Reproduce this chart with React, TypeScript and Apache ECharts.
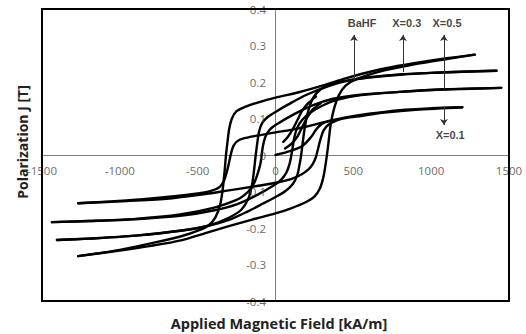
import React, { useEffect, useRef } from "react";
import * as echarts from "echarts";

// Hysteresis loops: [H (kA/m), J (T)]
const bahfDesc = [
  [1280, 0.275], [1100, 0.265], [900, 0.252], [700, 0.237], [550, 0.222], [450, 0.21], [300, 0.19],
  [150, 0.172], [0, 0.157], [-120, 0.143], [-200, 0.131], [-250, 0.12], [-280, 0.1], [-298, 0.07],
  [-310, 0.03], [-318, 0.0], [-326, -0.04], [-338, -0.09], [-355, -0.135], [-385, -0.17], [-430, -0.193],
  [-490, -0.206], [-600, -0.222], [-800, -0.242], [-1000, -0.26], [-1268, -0.277],
];
const bahfAsc = [
  [-1268, -0.277], [-1000, -0.262], [-800, -0.249], [-600, -0.233], [-450, -0.214], [-300, -0.195],
  [-150, -0.177], [0, -0.16], [100, -0.146], [200, -0.128], [250, -0.114], [285, -0.092], [308, -0.06],
  [322, -0.025], [332, 0.005], [342, 0.04], [355, 0.085], [375, 0.125], [405, 0.162], [450, 0.19],
  [520, 0.208], [700, 0.232], [900, 0.249], [1100, 0.263], [1280, 0.275],
];
const x01Desc = [
  [1200, 0.131], [1000, 0.128], [800, 0.123], [600, 0.113], [450, 0.103], [350, 0.094], [200, 0.078],
  [100, 0.069], [0, 0.062], [-120, 0.053], [-200, 0.046], [-245, 0.038], [-270, 0.025], [-285, 0.005],
  [-298, -0.02], [-312, -0.045], [-330, -0.07], [-360, -0.088], [-420, -0.099], [-500, -0.105],
  [-650, -0.113], [-870, -0.122], [-1050, -0.127], [-1268, -0.132],
];
const x01Asc = [
  [-1268, -0.132], [-1000, -0.127], [-700, -0.12], [-500, -0.11], [-300, -0.097], [-150, -0.087],
  [0, -0.076], [100, -0.066], [160, -0.055], [210, -0.04], [240, -0.024], [260, -0.005], [275, 0.02],
  [290, 0.045], [310, 0.068], [340, 0.083], [390, 0.094], [450, 0.101], [550, 0.107], [700, 0.116],
  [900, 0.124], [1200, 0.131],
];
const x03Desc = [
  [1420, 0.231], [1200, 0.228], [1000, 0.225], [800, 0.221], [600, 0.213], [480, 0.205], [350, 0.19],
  [200, 0.165], [80, 0.138], [0, 0.118], [-50, 0.104], [-85, 0.088], [-105, 0.065], [-118, 0.03],
  [-127, 0.0], [-136, -0.035], [-150, -0.08], [-175, -0.12], [-220, -0.15], [-300, -0.172],
  [-420, -0.192], [-600, -0.207], [-900, -0.221], [-1200, -0.229], [-1404, -0.233],
];
const x03Asc = [
  [-1404, -0.233], [-1200, -0.229], [-900, -0.221], [-600, -0.207], [-450, -0.196], [-300, -0.178],
  [-180, -0.155], [-80, -0.133], [0, -0.115], [60, -0.1], [110, -0.08], [140, -0.055], [155, -0.025],
  [165, 0.0], [175, 0.035], [190, 0.08], [210, 0.12], [240, 0.155], [290, 0.18], [360, 0.195],
  [480, 0.205], [600, 0.212], [800, 0.22], [1000, 0.225], [1200, 0.228], [1420, 0.231],
];
const x05Desc = [
  [1450, 0.184], [1200, 0.181], [1000, 0.178], [800, 0.173], [600, 0.167], [480, 0.162], [370, 0.154],
  [250, 0.138], [120, 0.112], [0, 0.082], [-40, 0.068], [-65, 0.05], [-78, 0.03], [-86, 0.01],
  [-95, -0.02], [-110, -0.045], [-130, -0.07], [-155, -0.09], [-200, -0.11], [-250, -0.123],
  [-400, -0.145], [-613, -0.163], [-900, -0.175], [-1200, -0.181], [-1436, -0.184],
];
const x05Asc = [
  [-1436, -0.184], [-1200, -0.181], [-900, -0.176], [-600, -0.166], [-400, -0.152], [-250, -0.135],
  [-120, -0.11], [0, -0.08], [40, -0.066], [70, -0.048], [90, -0.025], [100, -0.005], [110, 0.02],
  [122, 0.05], [140, 0.075], [170, 0.095], [220, 0.115], [300, 0.135], [400, 0.152], [550, 0.164],
  [800, 0.173], [1100, 0.18], [1450, 0.184],
];
// Initial magnetization curves
const virgin1 = [[0, 0.0], [80, 0.009], [170, 0.024], [230, 0.05], [265, 0.072], [300, 0.086], [340, 0.092]];
const virgin2 = [[50, 0.036], [80, 0.05], [110, 0.07], [140, 0.095], [170, 0.12], [210, 0.142], [260, 0.16]];
const virgin3 = [[61, 0.018], [100, 0.03], [140, 0.05], [170, 0.075], [200, 0.1], [240, 0.125], [290, 0.142]];

// Tick labels
const xTicks = [-1500, -1000, -500, 0, 500, 1000, 1500];
const yTicks = [-0.4, -0.3, -0.2, -0.1, 0, 0.1, 0.2, 0.3, 0.4];
const yTickLabels = ["-0.4", "-0.3", "-0.2", "-0.1", "0", "0.1", "0.2", "0.3", "0.4"];

// Annotations: [H, J from, J to], and label positions
const arrowLines = [
  [504, 0.205, 0.329],
  [819, 0.227, 0.329],
  [1082, 0.181, 0.329],
  [1082, 0.131, 0.082],
];
const annotationLabels = [
  { name: "BaHF", value: [556, 0.362] },
  { name: "X=0.3", value: [843, 0.362] },
  { name: "X=0.5", value: [1102, 0.362] },
  { name: "X=0.1", value: [1122, 0.055] },
];
const xTitle = "Applied Magnetic Field [kA/m]";
const yTitle = "Polarization J [T]";

const tickFont = { color: "#404040", fontSize: 11.5, fontFamily: "Open Sans" };

export default function App() {
  const ref = useRef<HTMLDivElement>(null);
  useEffect(() => {
    if (!ref.current) return;
    const chart = echarts.init(ref.current, undefined, { renderer: "svg" });
    const curves = [bahfDesc, bahfAsc, x01Desc, x01Asc, x03Desc, x03Asc, x05Desc, x05Asc, virgin1, virgin2, virgin3];
    const series: any[] = curves.map((d, i) => ({
      type: "line",
      data: d,
      symbol: "none",
      smooth: 0.3,
      lineStyle: { color: "#000", width: 2.4, cap: "round", join: "round" },
      silent: true,
      z: 3,
      markLine:
        i === 0
          ? {
              silent: true,
              symbol: ["none", "arrow"],
              symbolSize: 6,
              label: { show: false },
              lineStyle: { color: "#333", width: 1, type: "solid" },
              data: arrowLines.map((a) => [
                { coord: [a[0], a[1]] },
                { coord: [a[0], a[2]] },
              ]),
            }
          : undefined,
    }));
    // annotation labels
    series.push({
      type: "scatter",
      data: annotationLabels,
      symbolSize: 1,
      itemStyle: { color: "rgba(0,0,0,0)" },
      silent: true,
      z: 4,
      label: {
        show: true,
        position: "inside",
        formatter: (p: any) => p.name,
        fontFamily: "Liberation Sans",
        fontWeight: "bold",
        fontSize: 11,
        color: "#111",
      },
    });
    // x tick labels under the zero line
    series.push({
      type: "scatter",
      data: xTicks.map((v) => ({ name: String(v), value: [v, 0] })),
      symbolSize: 1,
      itemStyle: { color: "rgba(0,0,0,0)" },
      silent: true,
      z: 4,
      label: {
        show: true,
        position: "bottom",
        distance: 9,
        formatter: (p: any) => p.name,
        ...tickFont,
      },
    });
    // y tick labels left of the zero line
    series.push({
      type: "scatter",
      data: yTicks.map((v, i) => ({ name: yTickLabels[i], value: [0, v] })),
      symbolSize: 1,
      itemStyle: { color: "rgba(0,0,0,0)" },
      silent: true,
      z: 4,
      label: {
        show: true,
        position: "left",
        distance: 9,
        formatter: (p: any) => p.name,
        ...tickFont,
      },
    });
    chart.setOption({
      animation: false,
      grid: {
        left: 42,
        right: 17,
        top: 9,
        bottom: 33,
        outerBoundsMode: "none",
        containLabel: false,
      },
      xAxis: {
        type: "value",
        min: -1500,
        max: 1500,
        interval: 500,
        axisLine: { onZero: true, lineStyle: { color: "#7f7f7f", width: 1 } },
        axisTick: { show: false },
        splitLine: { show: false },
        axisLabel: { show: false },
      },
      yAxis: {
        type: "value",
        min: -0.4,
        max: 0.4,
        interval: 0.1,
        axisLine: { onZero: true, lineStyle: { color: "#7f7f7f", width: 1 } },
        axisTick: { show: false },
        splitLine: { show: false },
        axisLabel: { show: false },
      },
      graphic: [
        {
          type: "rect",
          shape: { x: 42, y: 9, width: 467, height: 292 },
          style: { fill: "none", stroke: "#000", lineWidth: 2 },
          silent: true,
          z: 10,
        },
        {
          type: "text",
          x: 279,
          y: 323,
          style: {
            text: xTitle,
            fontFamily: "Open Sans",
            fontWeight: "bold",
            fontSize: 14.5,
            fill: "#222",
            textAlign: "center",
            textVerticalAlign: "middle",
            align: "center",
            verticalAlign: "middle",
          },
        },
        {
          type: "text",
          x: 22,
          y: 142,
          rotation: Math.PI / 2,
          style: {
            text: yTitle,
            fontFamily: "Open Sans",
            fontWeight: "bold",
            fontSize: 14,
            fill: "#222",
            textAlign: "center",
            textVerticalAlign: "middle",
            align: "center",
            verticalAlign: "middle",
          },
        },
      ],
      series,
    });
    return () => chart.dispose();
  }, []);
  return (
    <div
      ref={ref}
      style={{ position: "fixed", left: 0, top: 0, width: 526, height: 334, background: "#fff" }}
    />
  );
}
